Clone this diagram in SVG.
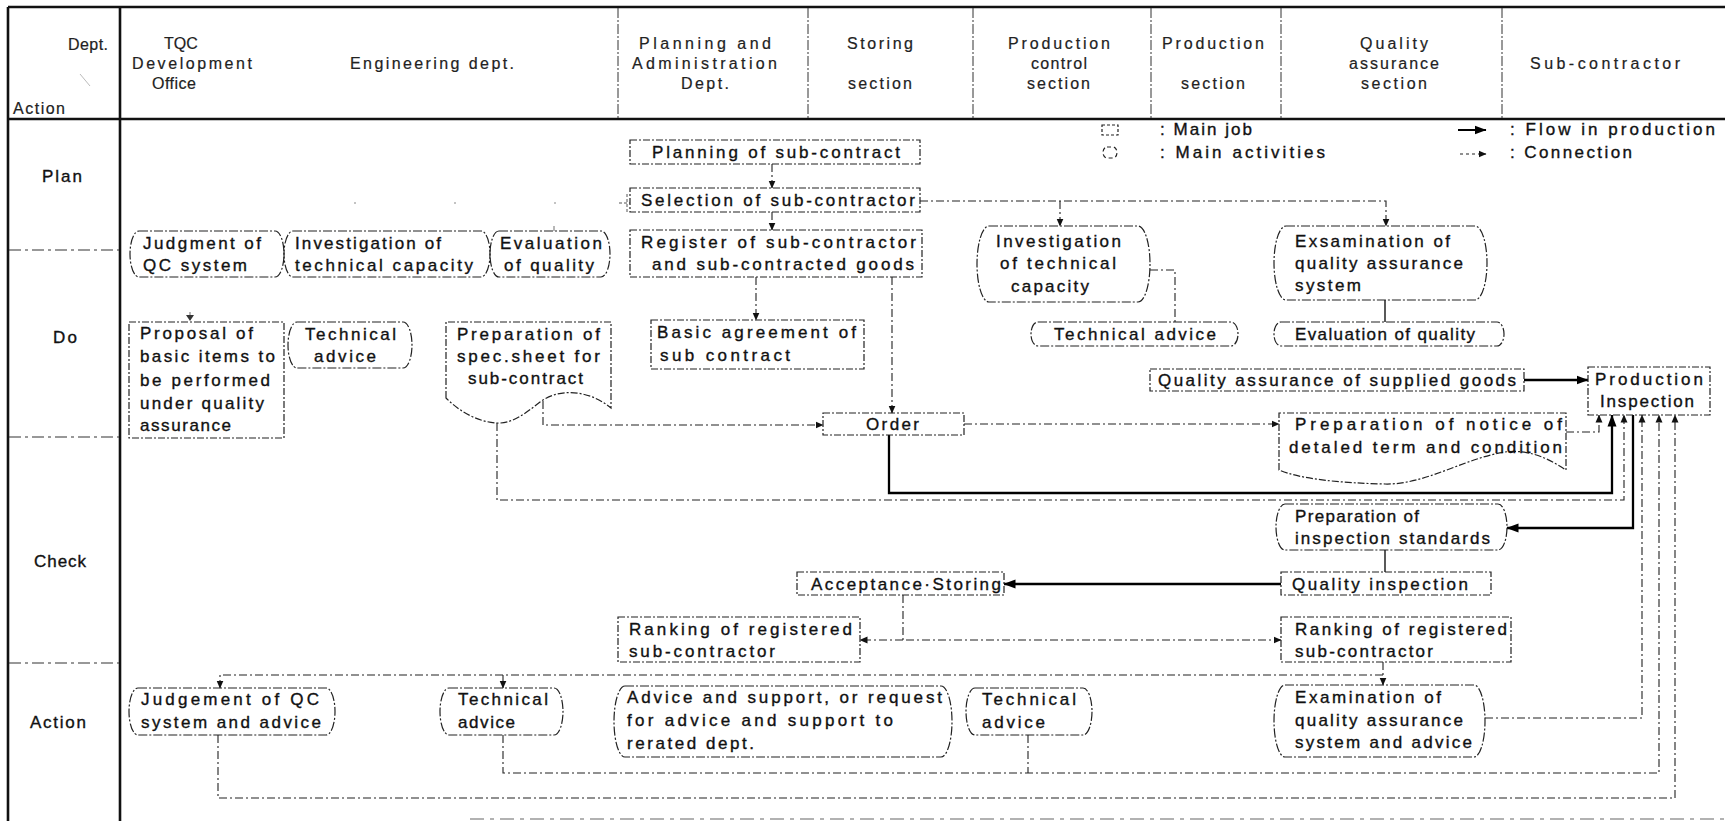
<svg xmlns="http://www.w3.org/2000/svg" width="1725" height="821" viewBox="0 0 1725 821">
  <defs>
    <style>
      .frame { stroke: #111; stroke-width: 2.6; fill: none; }
      .hdiv { stroke: #333; stroke-width: 1; stroke-dasharray: 10 2 2 2; fill: none; }
      .rowsep { stroke: #333; stroke-width: 1.1; stroke-dasharray: 12 4 3 4; fill: none; }
      .job { fill: none; stroke: #222; stroke-width: 1.2; stroke-dasharray: 7 2 2 2; }
      .act { fill: none; stroke: #222; stroke-width: 1.2; stroke-dasharray: 9 2 2 2; }
      .flow { fill: none; stroke: #000; stroke-width: 2.3; }
      .link { fill: none; stroke: #000; stroke-width: 1.3; }
      .conn { fill: none; stroke: #222; stroke-width: 1.1; stroke-dasharray: 8 3 2 3; }
      .faint { fill: none; stroke: #888; stroke-width: 1.2; stroke-dasharray: 2 98; }
      .t { font-family: "Liberation Sans", Arial, sans-serif; font-size: 17px; fill: #111; stroke: #111; stroke-width: 0.35; }
      .h { font-family: "Liberation Sans", Arial, sans-serif; font-size: 16px; fill: #222; stroke: #222; stroke-width: 0.2; }
    </style>
    <marker id="arrow-flow" viewBox="0 0 12 10" refX="11.5" refY="5" markerWidth="12" markerHeight="10" markerUnits="userSpaceOnUse" orient="auto">
      <path d="M0,0.5 L12,5 L0,9.5 z" fill="#000"/>
    </marker>
    <marker id="arrow-conn" viewBox="0 0 8 8" refX="7.5" refY="4" markerWidth="8" markerHeight="8" markerUnits="userSpaceOnUse" orient="auto">
      <path d="M0,0.5 L8,4 L0,7.5 z" fill="#111"/>
    </marker>
  </defs>

  <rect width="1725" height="821" fill="#fff"/>

  <!-- table frame -->
  <g id="frame">
    <line class="frame" x1="8" y1="7" x2="1725" y2="7"/>
    <line class="frame" x1="8" y1="119" x2="1725" y2="119"/>
    <line class="frame" x1="8" y1="7" x2="8" y2="821"/>
    <line class="frame" x1="120" y1="7" x2="120" y2="821"/>
    <line class="hdiv" x1="618" y1="8" x2="618" y2="118"/>
    <line class="hdiv" x1="808" y1="8" x2="808" y2="118"/>
    <line class="hdiv" x1="973" y1="8" x2="973" y2="118"/>
    <line class="hdiv" x1="1151" y1="8" x2="1151" y2="118"/>
    <line class="hdiv" x1="1281" y1="8" x2="1281" y2="118"/>
    <line class="hdiv" x1="1502" y1="8" x2="1502" y2="118"/>
    <line class="rowsep" x1="9" y1="250" x2="119" y2="250"/>
    <line class="rowsep" x1="9" y1="437" x2="119" y2="437"/>
    <line class="rowsep" x1="9" y1="663" x2="119" y2="663"/>
    <line x1="80" y1="74" x2="90" y2="86" stroke="#bbb" stroke-width="1"/>
    <line x1="470" y1="819" x2="1725" y2="819" stroke="#666" stroke-width="1.2" stroke-dasharray="14 6 4 6"/>
  </g>

  <!-- column and row headings -->
  <g id="headings">
    <text class="h" x="68" y="50" textLength="40" lengthAdjust="spacing">Dept.</text>
    <text class="h" x="13" y="114" textLength="52" lengthAdjust="spacing">Action</text>
    <text class="h" x="164" y="49">TQC</text>
    <text class="h" x="132" y="69" textLength="120" lengthAdjust="spacing">Development</text>
    <text class="h" x="152" y="89" textLength="44" lengthAdjust="spacing">Office</text>
    <text class="h" x="350" y="69" textLength="164" lengthAdjust="spacing">Engineering dept.</text>
    <text class="h" x="639" y="49" textLength="132" lengthAdjust="spacing">Planning and</text>
    <text class="h" x="632" y="69" textLength="145" lengthAdjust="spacing">Administration</text>
    <text class="h" x="681" y="89" textLength="48" lengthAdjust="spacing">Dept.</text>
    <text class="h" x="847" y="49" textLength="66" lengthAdjust="spacing">Storing</text>
    <text class="h" x="848" y="89" textLength="64" lengthAdjust="spacing">section</text>
    <text class="h" x="1008" y="49" textLength="102" lengthAdjust="spacing">Production</text>
    <text class="h" x="1031" y="69" textLength="56" lengthAdjust="spacing">control</text>
    <text class="h" x="1027" y="89" textLength="63" lengthAdjust="spacing">section</text>
    <text class="h" x="1162" y="49" textLength="102" lengthAdjust="spacing">Production</text>
    <text class="h" x="1181" y="89" textLength="64" lengthAdjust="spacing">section</text>
    <text class="h" x="1360" y="49" textLength="68" lengthAdjust="spacing">Quality</text>
    <text class="h" x="1349" y="69" textLength="90" lengthAdjust="spacing">assurance</text>
    <text class="h" x="1361" y="89" textLength="66" lengthAdjust="spacing">section</text>
    <text class="h" x="1530" y="69" textLength="150" lengthAdjust="spacing">Sub-contractor</text>
    <text class="t" x="42" y="182" textLength="40" lengthAdjust="spacing">Plan</text>
    <text class="t" x="53" y="343" textLength="24" lengthAdjust="spacing">Do</text>
    <text class="t" x="34" y="567" textLength="52" lengthAdjust="spacing">Check</text>
    <text class="t" x="30" y="728" textLength="56" lengthAdjust="spacing">Action</text>
  </g>

  <!-- legend -->
  <g id="legend">
    <rect class="job" x="1102" y="125" width="16" height="10" style="stroke-dasharray:3 2"/>
    <rect class="act" x="1103" y="147" width="14" height="11" rx="4" ry="5.5" style="stroke-dasharray:4 3"/>
    <text class="t" x="1160" y="135" textLength="92" lengthAdjust="spacing">: Main job</text>
    <text class="t" x="1160" y="158" textLength="165" lengthAdjust="spacing">: Main activities</text>
    <line class="flow" x1="1458" y1="130" x2="1486" y2="130" marker-end="url(#arrow-flow)" style="stroke-width:2"/>
    <line class="conn" x1="1460" y1="154" x2="1486" y2="154" marker-end="url(#arrow-conn)" style="stroke-dasharray:3 3"/>
    <text class="t" x="1510" y="135" textLength="205" lengthAdjust="spacing">: Flow in production</text>
    <text class="t" x="1510" y="158" textLength="122" lengthAdjust="spacing">: Connection</text>
  </g>

  <!-- connectors -->
  <g id="connectors">
    <!-- flow in production -->
    <path class="flow" d="M1524,380 H1588" marker-end="url(#arrow-flow)"/>
    <path class="flow" d="M889,435 V493 H1612 V415" marker-end="url(#arrow-flow)"/>
    <path class="flow" d="M1633,415 V528 H1507" marker-end="url(#arrow-flow)"/>
    <path class="flow" d="M1281,584 H1004" marker-end="url(#arrow-flow)"/>
    <path class="link" d="M1385,550 V572"/>
    <path class="link" d="M1385,300 V322"/>
    <!-- connections -->
    <path class="conn" d="M772,164 V188" marker-end="url(#arrow-conn)"/>
    <path class="conn" d="M772,212 V230" marker-end="url(#arrow-conn)"/>
    <path class="conn" d="M920,201 H1386 V226" marker-end="url(#arrow-conn)"/>
    <path class="conn" d="M1060,201 V226" marker-end="url(#arrow-conn)"/>
    <path class="faint" d="M354,203 H627"/>
    <path d="M619,203 H630 M627,194 V212" stroke="#555" stroke-width="1" stroke-dasharray="3 2" fill="none"/>
    <path d="M554,226 V231 M190,312 V316" stroke="#888" stroke-width="1.2" fill="none"/>
    <path d="M186,315 L190,321 L194,315 z" fill="#333"/>
    <path class="conn" d="M756,277 V320" marker-end="url(#arrow-conn)"/>
    <path class="conn" d="M892,277 V413" marker-end="url(#arrow-conn)"/>
    <path class="conn" d="M1150,270 H1175 V322"/>
    <path class="conn" d="M543,401 V425 H823" marker-end="url(#arrow-conn)"/>
    <path class="conn" d="M497,423 V500 H1624 V415" marker-end="url(#arrow-conn)"/>
    <path class="conn" d="M964,424 H1279" marker-end="url(#arrow-conn)"/>
    <path class="conn" d="M1566,432 H1599 V415" marker-end="url(#arrow-conn)"/>
    <path class="conn" d="M903,595 V640 H1281" marker-end="url(#arrow-conn)"/>
    <path class="conn" d="M903,640 H860" marker-end="url(#arrow-conn)"/>
    <path class="conn" d="M1383,662 V685" marker-end="url(#arrow-conn)"/>
    <path class="conn" d="M1383,675 H220 V688" marker-end="url(#arrow-conn)"/>
    <path class="conn" d="M503,675 V688" marker-end="url(#arrow-conn)"/>
    <path class="conn" d="M1485,718 H1642 V415" marker-end="url(#arrow-conn)"/>
    <path class="conn" d="M503,735 V773 H1659 V415" marker-end="url(#arrow-conn)"/>
    <path class="conn" d="M1028,735 V773"/>
    <path class="conn" d="M218,735 V798 H1675 V415" marker-end="url(#arrow-conn)"/>
  </g>

  <!-- Plan -->
  <g id="planning-of-sub-contract">
    <rect class="job" x="630" y="140" width="290" height="24"/>
    <text class="t" x="652" y="158" textLength="248" lengthAdjust="spacing">Planning of sub-contract</text>
  </g>
  <g id="selection-of-sub-contractor">
    <rect class="job" x="630" y="188" width="290" height="24"/>
    <text class="t" x="641" y="206" textLength="274" lengthAdjust="spacing">Selection of sub-contractor</text>
  </g>

  <!-- Do -->
  <g id="judgment-of-qc-system">
    <rect class="act" x="130" y="231" width="154" height="46" rx="9" ry="23"/>
    <text class="t" x="143" y="249" textLength="118" lengthAdjust="spacing">Judgment of</text>
    <text class="t" x="143" y="271" textLength="104" lengthAdjust="spacing">QC system</text>
  </g>
  <g id="investigation-of-technical-capacity-eng">
    <rect class="act" x="284" y="231" width="206" height="46" rx="9" ry="23"/>
    <text class="t" x="295" y="249" textLength="146" lengthAdjust="spacing">Investigation of</text>
    <text class="t" x="295" y="271" textLength="178" lengthAdjust="spacing">technical capacity</text>
  </g>
  <g id="evaluation-of-quality-eng">
    <rect class="act" x="490" y="231" width="120" height="46" rx="9" ry="23"/>
    <text class="t" x="500" y="249" textLength="102" lengthAdjust="spacing">Evaluation</text>
    <text class="t" x="504" y="271" textLength="90" lengthAdjust="spacing">of quality</text>
  </g>
  <g id="register-of-sub-contractor">
    <rect class="job" x="630" y="230" width="292" height="47"/>
    <text class="t" x="641" y="248" textLength="275" lengthAdjust="spacing">Register of sub-contractor</text>
    <text class="t" x="652" y="270" textLength="262" lengthAdjust="spacing">and sub-contracted goods</text>
  </g>
  <g id="investigation-of-technical-capacity-pc">
    <rect class="act" x="977" y="226" width="173" height="76" rx="12" ry="38"/>
    <text class="t" x="996" y="247" textLength="125" lengthAdjust="spacing">Investigation</text>
    <text class="t" x="1000" y="269" textLength="116" lengthAdjust="spacing">of technical</text>
    <text class="t" x="1011" y="292" textLength="78" lengthAdjust="spacing">capacity</text>
  </g>
  <g id="examination-of-qa-system">
    <rect class="act" x="1274" y="226" width="213" height="74" rx="12" ry="37"/>
    <text class="t" x="1295" y="247" textLength="155" lengthAdjust="spacing">Exsamination of</text>
    <text class="t" x="1295" y="269" textLength="168" lengthAdjust="spacing">quality assurance</text>
    <text class="t" x="1295" y="291" textLength="66" lengthAdjust="spacing">system</text>
  </g>
  <g id="technical-advice-pc">
    <rect class="act" x="1031" y="322" width="207" height="24" rx="7" ry="12"/>
    <text class="t" x="1054" y="340" textLength="162" lengthAdjust="spacing">Technical advice</text>
  </g>
  <g id="evaluation-of-quality-qa">
    <rect class="act" x="1274" y="322" width="230" height="24" rx="7" ry="12"/>
    <text class="t" x="1295" y="340" textLength="180" lengthAdjust="spacing">Evaluation of quality</text>
  </g>
  <g id="proposal-of-basic-items">
    <rect class="job" x="129" y="322" width="155" height="116"/>
    <text class="t" x="140" y="339" textLength="113" lengthAdjust="spacing">Proposal of</text>
    <text class="t" x="140" y="362" textLength="135" lengthAdjust="spacing">basic items to</text>
    <text class="t" x="140" y="386" textLength="130" lengthAdjust="spacing">be performed</text>
    <text class="t" x="140" y="409" textLength="124" lengthAdjust="spacing">under quality</text>
    <text class="t" x="140" y="431" textLength="91" lengthAdjust="spacing">assurance</text>
  </g>
  <g id="technical-advice-eng-do">
    <rect class="act" x="288" y="322" width="124" height="46" rx="9" ry="23"/>
    <text class="t" x="305" y="340" textLength="91" lengthAdjust="spacing">Technical</text>
    <text class="t" x="314" y="362" textLength="62" lengthAdjust="spacing">advice</text>
  </g>
  <g id="spec-sheet-for-sub-contract">
    <path class="job" d="M446,398 V322 H611 V408 C592,392 562,386 540,402 C526,413 512,424 497,423 C478,422 460,412 446,398 Z"/>
    <text class="t" x="457" y="340" textLength="143" lengthAdjust="spacing">Preparation of</text>
    <text class="t" x="457" y="362" textLength="143" lengthAdjust="spacing">spec.sheet for</text>
    <text class="t" x="468" y="384" textLength="115" lengthAdjust="spacing">sub-contract</text>
  </g>
  <g id="basic-agreement">
    <rect class="job" x="651" y="320" width="213" height="49"/>
    <text class="t" x="657" y="338" textLength="199" lengthAdjust="spacing">Basic agreement of</text>
    <text class="t" x="660" y="361" textLength="130" lengthAdjust="spacing">sub contract</text>
  </g>
  <g id="order">
    <rect class="job" x="823" y="413" width="141" height="22"/>
    <text class="t" x="866" y="430" textLength="53" lengthAdjust="spacing">Order</text>
  </g>
  <g id="qa-of-supplied-goods">
    <rect class="job" x="1150" y="369" width="374" height="22"/>
    <text class="t" x="1158" y="386" textLength="358" lengthAdjust="spacing">Quality assurance of supplied goods</text>
  </g>
  <g id="production-inspection">
    <rect class="job" x="1588" y="367" width="122" height="48"/>
    <text class="t" x="1595" y="385" textLength="108" lengthAdjust="spacing">Production</text>
    <text class="t" x="1600" y="407" textLength="94" lengthAdjust="spacing">Inspection</text>
  </g>
  <g id="notice-of-terms">
    <path class="job" d="M1279,470 V413 H1566 V470 C1548,458 1528,449 1505,452 C1465,458 1425,485 1385,484 C1340,483 1300,479 1279,470 Z"/>
    <text class="t" x="1295" y="430" textLength="267" lengthAdjust="spacing">Preparation of notice of</text>
    <text class="t" x="1289" y="453" textLength="273" lengthAdjust="spacing">detaled term and condition</text>
  </g>

  <!-- Check -->
  <g id="inspection-standards">
    <rect class="act" x="1276" y="504" width="231" height="46" rx="9" ry="23"/>
    <text class="t" x="1295" y="522" textLength="124" lengthAdjust="spacing">Preparation of</text>
    <text class="t" x="1295" y="544" textLength="195" lengthAdjust="spacing">inspection standards</text>
  </g>
  <g id="quality-inspection">
    <rect class="job" x="1281" y="572" width="210" height="23"/>
    <text class="t" x="1292" y="590" textLength="176" lengthAdjust="spacing">Quality inspection</text>
  </g>
  <g id="acceptance-storing">
    <rect class="job" x="797" y="572" width="207" height="23"/>
    <text class="t" x="811" y="590" textLength="190" lengthAdjust="spacing">Acceptance·Storing</text>
  </g>
  <g id="ranking-pa">
    <rect class="job" x="618" y="617" width="242" height="45"/>
    <text class="t" x="629" y="635" textLength="223" lengthAdjust="spacing">Ranking of registered</text>
    <text class="t" x="629" y="657" textLength="146" lengthAdjust="spacing">sub-contractor</text>
  </g>
  <g id="ranking-qa">
    <rect class="job" x="1281" y="617" width="230" height="45"/>
    <text class="t" x="1295" y="635" textLength="212" lengthAdjust="spacing">Ranking of registered</text>
    <text class="t" x="1295" y="657" textLength="138" lengthAdjust="spacing">sub-contractor</text>
  </g>

  <!-- Action -->
  <g id="judgement-of-qc-and-advice">
    <rect class="act" x="129" y="688" width="206" height="47" rx="9" ry="23.5"/>
    <text class="t" x="141" y="705" textLength="178" lengthAdjust="spacing">Judgement of QC</text>
    <text class="t" x="141" y="728" textLength="180" lengthAdjust="spacing">system and advice</text>
  </g>
  <g id="technical-advice-eng-action">
    <rect class="act" x="440" y="688" width="123" height="47" rx="9" ry="23.5"/>
    <text class="t" x="458" y="705" textLength="90" lengthAdjust="spacing">Technical</text>
    <text class="t" x="458" y="728" textLength="57" lengthAdjust="spacing">advice</text>
  </g>
  <g id="advice-and-support">
    <rect class="act" x="614" y="686" width="338" height="71" rx="11" ry="35.5"/>
    <text class="t" x="627" y="703" textLength="315" lengthAdjust="spacing">Advice and support, or request</text>
    <text class="t" x="627" y="726" textLength="266" lengthAdjust="spacing">for advice and support to</text>
    <text class="t" x="627" y="749" textLength="127" lengthAdjust="spacing">rerated dept.</text>
  </g>
  <g id="technical-advice-pc-action">
    <rect class="act" x="966" y="688" width="126" height="47" rx="9" ry="23.5"/>
    <text class="t" x="982" y="705" textLength="94" lengthAdjust="spacing">Technical</text>
    <text class="t" x="982" y="728" textLength="63" lengthAdjust="spacing">advice</text>
  </g>
  <g id="examination-and-advice">
    <rect class="act" x="1274" y="685" width="211" height="72" rx="11" ry="36"/>
    <text class="t" x="1295" y="703" textLength="146" lengthAdjust="spacing">Examination of</text>
    <text class="t" x="1295" y="726" textLength="168" lengthAdjust="spacing">quality assurance</text>
    <text class="t" x="1295" y="748" textLength="177" lengthAdjust="spacing">system and advice</text>
  </g>
</svg>
